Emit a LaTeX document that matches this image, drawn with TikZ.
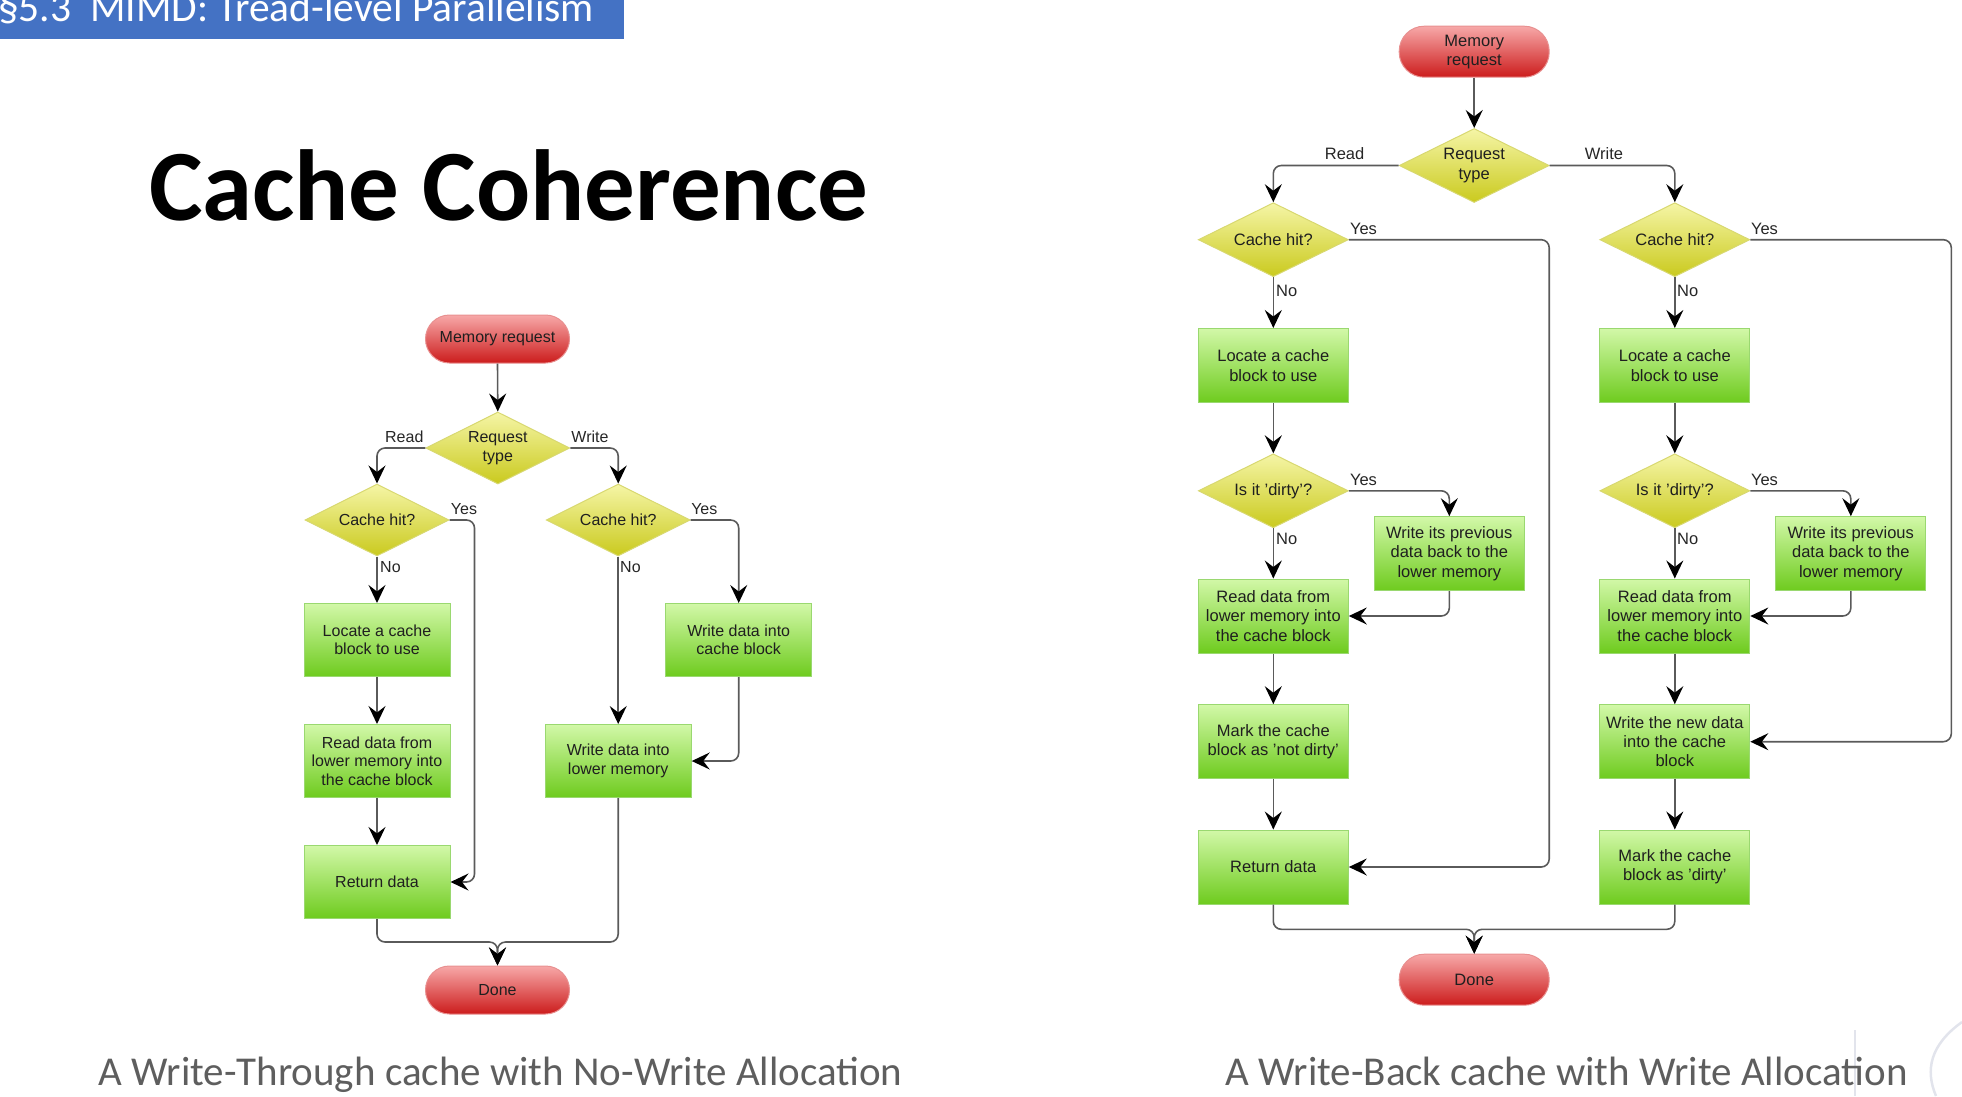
\documentclass[tikz,border=0pt]{standalone}
\usepackage{fontspec}
\setmainfont{Liberation Sans}
\newfontfamily\calib{Carlito}
\usetikzlibrary{shapes.geometric,arrows.meta}

\definecolor{headblue}{HTML}{4472C4}
\definecolor{capgray}{HTML}{5E5E5E}
\definecolor{redtop}{HTML}{F7A8A8}
\definecolor{redbot}{HTML}{CC1C1C}
\definecolor{redline}{HTML}{E89090}
\definecolor{yeltop}{HTML}{F5F5A6}
\definecolor{yelbot}{HTML}{CACA1E}
\definecolor{yelline}{HTML}{D8D870}
\definecolor{grntop}{HTML}{D2F8A8}
\definecolor{grnbot}{HTML}{6ECB1E}
\definecolor{grnline}{HTML}{9AD870}
\definecolor{wiregray}{HTML}{5A5A5A}
\definecolor{markgray}{HTML}{E2E4EC}

\newcommand\txtL{\fontsize{16}{18.5}\selectfont}
\newcommand\txtR{\fontsize{16.5}{19.3}\selectfont}

\tikzset{
  basebox/.style={align=center, inner sep=0pt, line width=1pt, text=black!88},
  pill/.style={basebox, rectangle, rounded corners=24pt,
    minimum width=144pt, minimum height=48pt,
    top color=redtop, bottom color=redbot, draw=redline},
  pillR/.style={pill, rounded corners=25pt, minimum width=150pt, minimum height=51pt},
  process/.style={basebox, rectangle, minimum width=146pt, minimum height=73pt,
    top color=grntop, bottom color=grnbot, draw=grnline},
  processR/.style={process, minimum width=150pt, minimum height=74pt},
  decision/.style={basebox, diamond, shape aspect=2, minimum width=144pt, minimum height=72pt,
    top color=yeltop, bottom color=yelbot, draw=yelline},
  decisionR/.style={decision, minimum width=150pt, minimum height=74pt},
  flow/.style={draw=wiregray, line width=1.6pt, rounded corners=8pt,
    -{Stealth[length=18pt,width=17pt,inset=6.5pt,color=black]}},
  lbl/.style={inner sep=0pt, text=black!85},
}

\begin{document}
\begin{tikzpicture}[x=1pt,y=-1pt]
\useasboundingbox (0,0) rectangle (1962,1096);
\clip (0,0) rectangle (1962,1096);

% slide header and title
\fill[headblue] (0,0) rectangle (624,39);
\node[anchor=base west, inner sep=0pt, text=white, font=\calib\fontsize{41.5}{41.5}\selectfont]
  (head) at (-2,21) {§5.3\ \ MIMD: Tread-level Parallelism};
\node[anchor=base west, inner sep=0pt, font=\calib\bfseries\fontsize{101}{101}\selectfont]
  (title) at (149,220) {Cache Coherence};

% faint logo in the corner
\draw[markgray, line width=2.5pt] (1855,1030) -- (1855,1096);
\draw[markgray, line width=2.5pt] (1936,1096) .. controls (1925,1070) and (1930,1045) .. (1962,1022);

% ---------------- write-through, no-write allocation ----------------
\begin{scope}[font=\txtL]
\node[pill]     (mr1)  at (497.5,339) {Memory request};
\node[decision] (rt1)  at (497.8,448) {Request\\type};
\node[decision] (ch1)  at (377,520)   {Cache hit?};
\node[decision] (ch2)  at (618.2,520) {Cache hit?};
\node[process]  (lc1)  at (377,640)   {Locate a cache\\block to use};
\node[process]  (wc1)  at (738.7,640) {Write data into\\cache block};
\node[process]  (rd1)  at (377,761)   {Read data from\\lower memory into\\the cache block};
\node[process]  (wl1)  at (618.2,761) {Write data into\\lower memory};
\node[process]  (ret1) at (377,882)   {Return data};
\node[pill]     (d1)   at (497.5,990) {Done};
\coordinate (m1) at (497.5,942);

\draw[flow] (mr1.south) -- (rt1.north);
\draw[flow] (rt1.west) -| (ch1.north);
\draw[flow] (rt1.east) -| (ch2.north);
\draw[flow] (ch1.south) -- (lc1.north);
\draw[flow] (ch1.east) -- ++(25,0) |- (ret1.east);
\draw[flow] (ch2.east) -| (wc1.north);
\draw[flow] (ch2.south) -- (wl1.north);
\draw[flow] (lc1.south) -- (rd1.north);
\draw[flow] (rd1.south) -- (ret1.north);
\draw[flow] (wc1.south) |- (wl1.east);
\draw[flow] (ret1.south) |- (m1) -- (d1.north);
\draw[flow] (wl1.south) |- (m1) -- (d1.north);

\node[lbl] (l1read)  at (404.3,437) {Read};
\node[lbl] (l1write) at (590,437)   {Write};
\node[lbl] (l1yesa)  at (464,509)   {Yes};
\node[lbl] (l1yesb)  at (704.3,509) {Yes};
\node[lbl, anchor=west] (l1noa) at (380,567) {No};
\node[lbl, anchor=west] (l1nob) at (620,567) {No};
\end{scope}

\node[anchor=base, inner sep=0pt, text=capgray, font=\calib\fontsize{41}{41}\selectfont]
  (cap1) at (500.5,1085) {A Write-Through cache with No-Write Allocation};

% ---------------- write-back, write allocation ----------------
\begin{scope}[font=\txtR]
\node[pillR]     (mr2)  at (1474.2,51.7)  {Memory\\request};
\node[decisionR] (rt2)  at (1474.2,165.5) {Request\\type};
\node[decisionR] (ch3)  at (1273.3,239.7) {Cache hit?};
\node[decisionR] (ch4)  at (1674.8,239.7) {Cache hit?};
\node[processR]  (lc2)  at (1273.3,365.5) {Locate a cache\\block to use};
\node[processR]  (lc3)  at (1674.8,365.5) {Locate a cache\\block to use};
\node[decisionR] (di2)  at (1273.3,490.8) {Is it 'dirty'?};
\node[decisionR] (di3)  at (1674.8,490.8) {Is it 'dirty'?};
\node[processR]  (wb2)  at (1449.3,553.7) {Write its previous\\data back to the\\lower memory};
\node[processR]  (wb3)  at (1850.8,553.7) {Write its previous\\data back to the\\lower memory};
\node[processR]  (rd2)  at (1273.3,616)   {Read data from\\lower memory into\\the cache block};
\node[processR]  (rd3)  at (1674.8,616)   {Read data from\\lower memory into\\the cache block};
\node[processR]  (mk2)  at (1273.3,741.7) {Mark the cache\\block as 'not dirty'};
\node[processR]  (wn3)  at (1674.8,741.7) {Write the new data\\into the cache\\block};
\node[processR]  (ret2) at (1273.3,867)   {Return data};
\node[processR]  (mk3)  at (1674.8,867)   {Mark the cache\\block as 'dirty'};
\node[pillR]     (d2)   at (1474.2,979.7) {Done};
\coordinate (m2) at (1474.2,929.3);

\draw[flow] (mr2.south) -- (rt2.north);
\draw[flow] (rt2.west) -| (ch3.north);
\draw[flow] (rt2.east) -| (ch4.north);
\draw[flow] (ch3.south) -- (lc2.north);
\draw[flow] (ch4.south) -- (lc3.north);
\draw[flow] (ch3.east) -- ++(200.4,0) |- (ret2.east);
\draw[flow] (ch4.east) -- ++(201,0) |- (wn3.east);
\draw[flow] (lc2.south) -- (di2.north);
\draw[flow] (lc3.south) -- (di3.north);
\draw[flow] (di2.east) -| (wb2.north);
\draw[flow] (di3.east) -| (wb3.north);
\draw[flow] (di2.south) -- (rd2.north);
\draw[flow] (di3.south) -- (rd3.north);
\draw[flow] (wb2.south) |- (rd2.east);
\draw[flow] (wb3.south) |- (rd3.east);
\draw[flow] (rd2.south) -- (mk2.north);
\draw[flow] (mk2.south) -- (ret2.north);
\draw[flow] (rd3.south) -- (wn3.north);
\draw[flow] (wn3.south) -- (mk3.north);
\draw[flow] (ret2.south) |- (m2) -- (d2.north);
\draw[flow] (mk3.south) |- (m2) -- (d2.north);

\node[lbl] (l2read)  at (1344.6,153.3) {Read};
\node[lbl] (l2write) at (1604,153.3)   {Write};
\node[lbl] (l2yesa)  at (1363.5,228.7) {Yes};
\node[lbl] (l2yesb)  at (1764.5,228.7) {Yes};
\node[lbl] (l2yesc)  at (1363.5,480)   {Yes};
\node[lbl] (l2yesd)  at (1764.5,480)   {Yes};
\node[lbl, anchor=west] (l2noa) at (1276,290.7) {No};
\node[lbl, anchor=west] (l2nob) at (1677,290.7) {No};
\node[lbl, anchor=west] (l2noc) at (1276,539.3) {No};
\node[lbl, anchor=west] (l2nod) at (1677,539.3) {No};
\end{scope}

\node[anchor=base, inner sep=0pt, text=capgray, font=\calib\fontsize{41}{41}\selectfont]
  (cap2) at (1566.5,1085) {A Write-Back cache with Write Allocation};
\end{tikzpicture}
\end{document}
